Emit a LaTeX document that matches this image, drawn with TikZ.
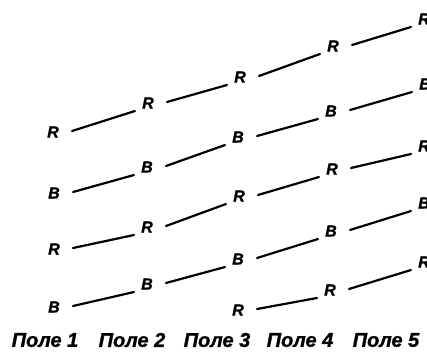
\documentclass[tikz,border=0pt]{standalone}
\usepackage{fontspec}
\setmainfont{Liberation Sans}
\newfontfamily\hv{Liberation Sans}[BoldItalicFeatures={FakeBold=1.2}]
\begin{document}
\begin{tikzpicture}[x=1pt,y=-1pt,
  lt/.style={font=\hv\fontsize{16}{16}\selectfont\bfseries\itshape, inner sep=0pt},
  fld/.style={font=\hv\fontsize{20}{20}\selectfont\bfseries\itshape, inner sep=0pt},
  ln/.style={line width=2.2pt, line cap=round}]
\useasboundingbox (0,0) rectangle (427,351);
\clip (0,0) rectangle (427,351);
% column 1
\node[lt] (a1) at (53,132) {R};
\node[lt] (a2) at (54,193) {B};
\node[lt] (a3) at (54,249) {R};
\node[lt] (a4) at (54,307) {B};
% column 2
\node[lt] (b1) at (148,103) {R};
\node[lt] (b2) at (147,167) {B};
\node[lt] (b3) at (147,227) {R};
\node[lt] (b4) at (147,284) {B};
% column 3
\node[lt] (c1) at (240,77) {R};
\node[lt] (c2) at (238,137) {B};
\node[lt] (c3) at (239,196) {R};
\node[lt] (c4) at (238,259) {B};
\node[lt] (c5) at (238,310) {R};
% column 4
\node[lt] (d1) at (333,46) {R};
\node[lt] (d2) at (331,111) {B};
\node[lt] (d3) at (332,169) {R};
\node[lt] (d4) at (331,231) {B};
\node[lt] (d5) at (330,290) {R};
% column 5
\node[lt] (e1) at (424,19) {R};
\node[lt] (e2) at (425,84) {B};
\node[lt] (e3) at (424,146) {R};
\node[lt] (e4) at (424,203) {B};
\node[lt] (e5) at (424,262) {R};
% connectors
\foreach \p/\q in {a1/b1,b1/c1,c1/d1,d1/e1,
                   a2/b2,b2/c2,c2/d2,d2/e2,
                   a3/b3,b3/c3,c3/d3,d3/e3,
                   a4/b4,b4/c4,c4/d4,d4/e4,
                   c5/d5,d5/e5}
  \draw[ln] ([shift={(19,-1)}]\p.center) -- ([shift={(-13,8)}]\q.center);
% field labels
\node[fld] (f1) at (45,340) {Поле 1};
\node[fld] (f2) at (132,340) {Поле 2};
\node[fld] (f3) at (217,340) {Поле 3};
\node[fld] (f4) at (300,340) {Поле 4};
\node[fld] (f5) at (386,340) {Поле 5};
\end{tikzpicture}
\end{document}
